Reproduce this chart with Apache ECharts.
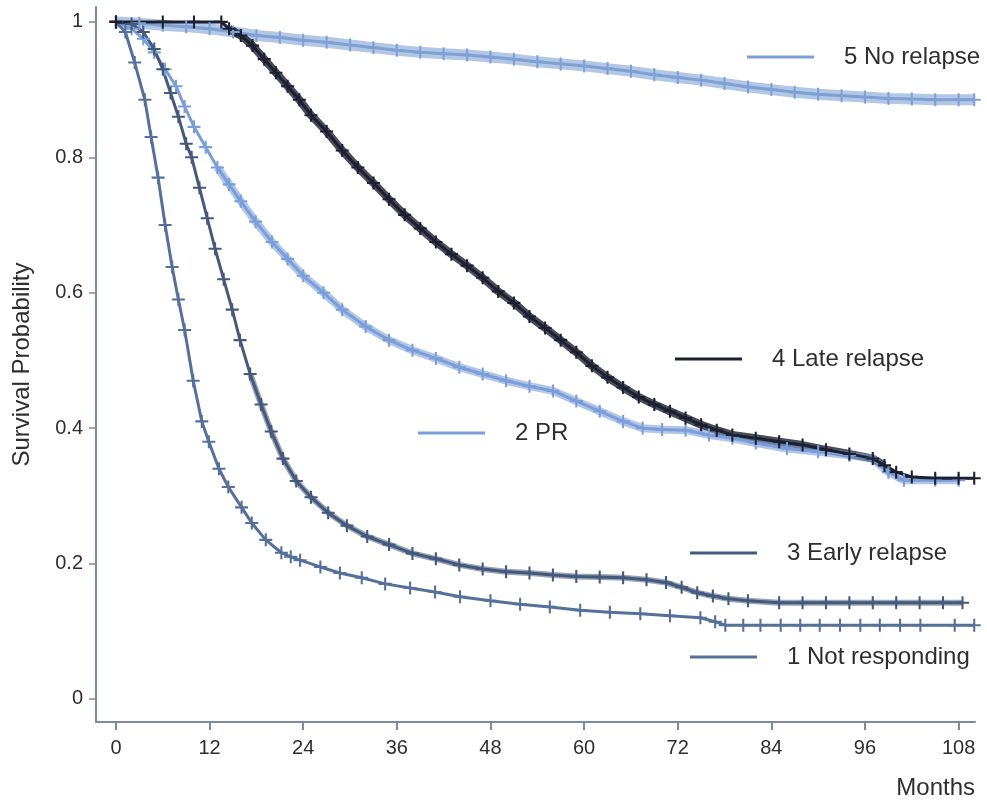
<!DOCTYPE html>
<html lang="en">
<head>
  <meta charset="UTF-8">
  <title>Survival</title>
  <script src="https://cdn.jsdelivr.net/npm/echarts@6/dist/echarts.min.js"></script>
  <style>
    html, body { margin: 0; padding: 0; background: #fff; }
    #main { width: 987px; height: 803px; }
  </style>
</head>
<body>
  <div id="main"></div>
  <script>
    // tick labels
    var monthTicks = [0, 12, 24, 36, 48, 60, 72, 84, 96, 108];
    var probTicks = [0, 0.2, 0.4, 0.6, 0.8, 1];

    // curves: [months, survival]
    var notResponding = [[0, 1], [1.2, 0.985], [2.4, 0.94], [3.7, 0.885], [4.5, 0.83], [5.4, 0.77], [6.3, 0.70], [7.2, 0.638], [8.0, 0.59], [8.8, 0.545], [9.9, 0.47], [11.0, 0.41], [11.9, 0.38], [13.2, 0.34], [14.4, 0.313], [16.1, 0.283], [17.4, 0.26], [19.2, 0.235], [21.2, 0.216], [22.4, 0.21], [23.6, 0.205], [26.2, 0.195], [28.7, 0.186], [31.5, 0.179], [34.5, 0.170], [37.7, 0.164], [40.9, 0.158], [44.1, 0.151], [48, 0.145], [51.8, 0.140], [55.6, 0.136], [59.5, 0.131], [63.3, 0.128], [67.2, 0.126], [71, 0.123], [74.9, 0.120], [76.8, 0.114], [78.1, 0.109], [80.4, 0.109], [82.6, 0.109], [85.2, 0.109], [87.7, 0.109], [90.2, 0.109], [92.8, 0.109], [95.4, 0.109], [97.9, 0.109], [100.5, 0.109], [103.1, 0.109], [107.5, 0.109], [110, 0.109]];
    var pr = [[0, 1], [2, 0.99], [3.5, 0.975], [4.9, 0.955], [6.3, 0.93], [7.7, 0.905], [8.8, 0.875], [10, 0.845], [11.5, 0.815], [13, 0.785], [14.5, 0.76], [16, 0.735], [17.9, 0.705], [20, 0.675], [22, 0.65], [24, 0.625], [26.6, 0.60], [29, 0.575], [32, 0.55], [35, 0.53], [38, 0.515], [41, 0.503], [44, 0.49], [47, 0.48], [50, 0.47], [53, 0.462], [56, 0.455], [59, 0.44], [62, 0.425], [65, 0.41], [67.5, 0.40], [70, 0.398], [73, 0.397], [76, 0.39], [79, 0.385], [82, 0.378], [86, 0.37], [90, 0.365], [94, 0.36], [97, 0.355], [99, 0.335], [101, 0.323], [105, 0.323], [108, 0.323]];
    var earlyRelapse = [[0, 1], [2.0, 0.997], [3.5, 0.985], [4.9, 0.96], [6.0, 0.93], [7.0, 0.895], [8.0, 0.86], [9.0, 0.82], [9.7, 0.80], [10.7, 0.755], [11.7, 0.71], [12.7, 0.665], [13.8, 0.62], [14.9, 0.575], [15.9, 0.53], [17.2, 0.48], [18.6, 0.435], [19.9, 0.395], [21.4, 0.355], [23.1, 0.322], [25.0, 0.298], [27.2, 0.275], [29.6, 0.256], [32.2, 0.24], [35, 0.228], [38, 0.215], [41, 0.207], [44, 0.198], [47, 0.192], [50, 0.188], [53, 0.186], [56, 0.183], [59, 0.181], [62, 0.18], [65, 0.179], [68, 0.176], [70.5, 0.172], [72.5, 0.165], [74.5, 0.157], [76.5, 0.152], [78.5, 0.148], [81, 0.145], [85, 0.142], [88, 0.142], [91, 0.142], [94, 0.142], [97, 0.142], [100, 0.142], [103, 0.142], [106, 0.142], [108.5, 0.142]];
    var lateRelapse = [[0, 1], [6, 1], [10, 1], [13.5, 1], [14.5, 0.99], [16, 0.98], [17.5, 0.965], [19, 0.945], [20.5, 0.925], [22, 0.905], [23.5, 0.885], [25, 0.862], [27, 0.838], [29, 0.81], [31, 0.785], [33, 0.762], [35, 0.738], [37, 0.715], [39, 0.695], [41, 0.675], [43, 0.657], [45, 0.64], [47, 0.622], [49, 0.602], [51, 0.585], [53, 0.565], [55, 0.548], [57, 0.53], [59, 0.512], [61, 0.492], [63, 0.475], [65, 0.46], [67, 0.446], [69, 0.435], [71, 0.425], [73, 0.415], [75, 0.405], [77, 0.397], [79, 0.39], [82, 0.385], [85, 0.38], [88, 0.375], [91, 0.368], [94, 0.362], [97, 0.355], [98.5, 0.345], [100, 0.335], [102, 0.328], [105, 0.326], [108, 0.326], [110, 0.326]];
    var noRelapse = [[0, 1], [3, 0.998], [6, 0.995], [9, 0.993], [12, 0.99], [15, 0.985], [18, 0.98], [21, 0.977], [24, 0.973], [27, 0.97], [30, 0.966], [33, 0.962], [36, 0.958], [39, 0.955], [42, 0.953], [45, 0.951], [48, 0.948], [51, 0.945], [54, 0.941], [57, 0.938], [60, 0.935], [63, 0.931], [66, 0.927], [69, 0.922], [72, 0.918], [75, 0.914], [78, 0.909], [81, 0.904], [84, 0.90], [87, 0.896], [90, 0.893], [93, 0.891], [96, 0.889], [99, 0.887], [102, 0.886], [105, 0.885], [108, 0.885], [110, 0.885]];

    var plus = 'path://M0,4.2H10V5.8H0Z M4.2,0H5.8V10H4.2Z';
    var font = 'Liberation Sans';

    // band under a curve, stands in for the dense censor ticks
    function band(data, color, width, op) {
      return {
        type: 'line', data: data, silent: true, showSymbol: false, z: 1,
        lineStyle: { color: color, width: width, opacity: op }
      };
    }
    function curve(name, data, color) {
      return {
        name: name, type: 'line', data: data, z: 2,
        symbol: plus, symbolSize: 13, showAllSymbol: true,
        itemStyle: { color: color },
        lineStyle: { color: color, width: 3 }
      };
    }
    function legendAt(name, left, top) {
      return {
        data: [name], left: left, top: top, padding: 0,
        icon: 'rect', itemWidth: 67, itemHeight: 3,
        selectedMode: false,
        textStyle: { fontFamily: font, fontSize: 24, color: '#2e2e2e', padding: [0, 0, 0, 25] }
      };
    }

    var myChart = echarts.init(document.getElementById('main'));
    var axisColor = '#7a8aa3';
    option = {
      animation: false,
      grid: { left: 96, right: 12, top: 7, bottom: 81, containLabel: false, outerBoundsMode: 'none' },
      legend: [
        legendAt('5 No relapse', 747, 45),
        legendAt('4 Late relapse', 675, 347),
        legendAt('2 PR', 418, 421),
        legendAt('3 Early relapse', 690, 541),
        legendAt('1 Not responding', 690, 645)
      ],
      graphic: [{
        type: 'text', right: 12, top: 776,
        style: { text: 'Months', fontFamily: font, fontSize: 24, fill: '#2e2e2e' }
      }],
      xAxis: {
        type: 'value', min: -2.56, max: 110.1,
        axisLine: { onZero: false, lineStyle: { color: axisColor, width: 2 } },
        axisTick: { show: true, length: 8, customValues: monthTicks, lineStyle: { color: axisColor, width: 2 } },
        axisLabel: { customValues: monthTicks, margin: 16, fontFamily: font, fontSize: 20, color: '#2e2e2e' },
        splitLine: { show: false }
      },
      yAxis: {
        type: 'value', min: -0.034, max: 1.022,
        name: 'Survival Probability', nameLocation: 'middle', nameGap: 62,
        nameTextStyle: { fontFamily: font, fontSize: 24, color: '#2e2e2e' },
        axisLine: { show: true, onZero: false, lineStyle: { color: axisColor, width: 2 } },
        axisTick: { show: true, length: 7, customValues: probTicks, lineStyle: { color: axisColor, width: 1.5 } },
        axisLabel: { customValues: probTicks, margin: 13, fontFamily: font, fontSize: 20, color: '#2e2e2e' },
        splitLine: { show: false }
      },
      series: [
        band(noRelapse, '#7fa0d4', 11, 0.6),
        band(lateRelapse.slice(4, 46), '#1c2030', 8, 0.8),
        band(pr.slice(9), '#7b9ed9', 8, 0.6),
        band(earlyRelapse.slice(15), '#44597c', 6, 0.55),
        curve('5 No relapse', noRelapse, '#7fa0d4'),
        curve('2 PR', pr, '#7b9ed9'),
        curve('1 Not responding', notResponding, '#55709a'),
        curve('3 Early relapse', earlyRelapse, '#44597c'),
        curve('4 Late relapse', lateRelapse, '#1c2030')
      ]
    };
    myChart.setOption(option);
  </script>
</body>
</html>
